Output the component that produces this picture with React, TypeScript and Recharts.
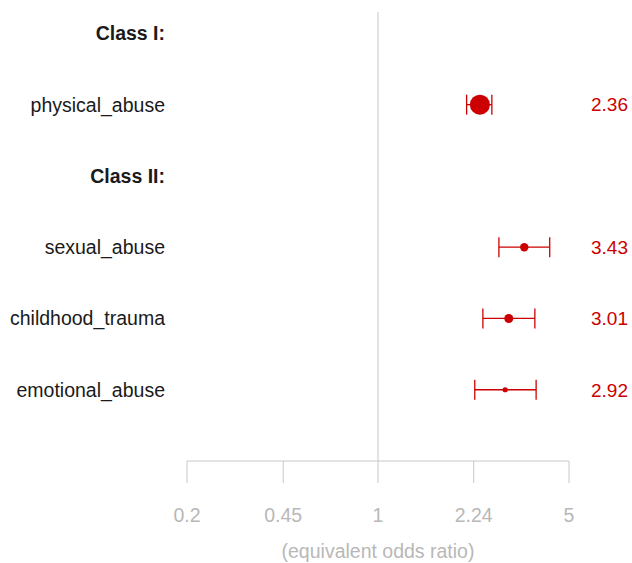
import React from 'react';
import { ScatterChart, Scatter, XAxis, YAxis, ErrorBar, ReferenceLine } from 'recharts';

const rowLabels = ['Class I:', 'physical_abuse', 'Class II:', 'sexual_abuse', 'childhood_trauma', 'emotional_abuse'];
const headerRows = [true, false, true, false, false, false];
const estimates = [null, 2.36, null, 3.43, 3.01, 2.92];
const ciLow = [null, 2.11, null, 2.77, 2.42, 2.26];
const ciHigh = [null, 2.61, null, 4.25, 3.75, 3.79];
const pointRadius = [null, 10, null, 4.2, 4.5, 2.6];
const xTicks = [0.2, 0.45, 1, 2.24, 5];
const rowTicks = [0, 1, 2, 3, 4, 5];

const RED = '#cc0000';
const GREY = '#c8c8c8';
const FONT = '"Liberation Sans", Arial, sans-serif';

const data = rowLabels
  .map((label, i) => ({
    row: i,
    label,
    est: estimates[i],
    err: estimates[i] == null ? [0, 0] : [estimates[i]! - ciLow[i]!, ciHigh[i]! - estimates[i]!],
    r: pointRadius[i],
  }))
  .filter((d) => d.est != null);

const LeftTick = (props: any) => {
  const { x, y, payload } = props;
  const i = payload.value;
  const label = rowLabels[i];
  if (label == null) return null;
  return (
    <text
      x={x}
      y={y}
      dy="0.36em"
      textAnchor="end"
      fontFamily={FONT}
      fontSize={19.5}
      fontWeight={headerRows[i] ? 'bold' : 'normal'}
      fill="#1a1a1a"
    >
      {label}
    </text>
  );
};

const RightTick = (props: any) => {
  const { x, y, payload } = props;
  const i = payload.value;
  const v = estimates[i];
  if (v == null) return <g />;
  return (
    <text x={x} y={y} dy="0.36em" textAnchor="start" fontFamily={FONT} fontSize={19} fill={RED}>
      {v.toFixed(2)}
    </text>
  );
};

const Dot = (props: any) => {
  const { cx, cy, payload } = props;
  return <circle cx={cx} cy={cy} r={payload.r} fill={RED} />;
};

const NoDot = () => <g />;

export default function App() {
  return (
    <div>
      <style>{'body{margin:0}'}</style>
      <ScatterChart width={632} height={563} margin={{ top: 12, right: 0, bottom: 0, left: 0 }}>
        <XAxis
          type="number"
          dataKey="est"
          scale="log"
          domain={[0.2, 5]}
          ticks={xTicks}
          interval={0}
          allowDataOverflow
          height={102}
          stroke={GREY}
          tickSize={22}
          tickMargin={25}
          tick={{ fill: '#b8b8b8', fontSize: 19.5, fontFamily: FONT }}
          tickFormatter={(v: number) => String(v)}
          label={{
            value: '(equivalent odds ratio)',
            position: 'insideBottom',
            offset: 5,
            fill: '#b8b8b8',
            fontSize: 19.5,
            fontFamily: FONT,
          }}
        />
        <YAxis
          yAxisId="left"
          type="number"
          dataKey="row"
          domain={[-0.3, 6]}
          reversed
          ticks={rowTicks}
          interval={0}
          width={187}
          axisLine={false}
          tickLine={false}
          tickSize={0}
          tickMargin={22}
          tick={LeftTick}
        />
        <YAxis
          yAxisId="right"
          orientation="right"
          type="number"
          dataKey="row"
          domain={[-0.3, 6]}
          reversed
          ticks={rowTicks}
          interval={0}
          width={63}
          axisLine={false}
          tickLine={false}
          tickSize={0}
          tickMargin={22}
          tick={RightTick}
        />
        <ReferenceLine yAxisId="left" x={1} stroke={GREY} strokeWidth={1} />
        <Scatter yAxisId="right" data={data} shape={NoDot} isAnimationActive={false} />
        <Scatter yAxisId="left" data={data} shape={Dot} isAnimationActive={false}>
          <ErrorBar dataKey="err" direction="x" width={10} stroke={RED} strokeWidth={1.3} />
        </Scatter>
      </ScatterChart>
    </div>
  );
}
